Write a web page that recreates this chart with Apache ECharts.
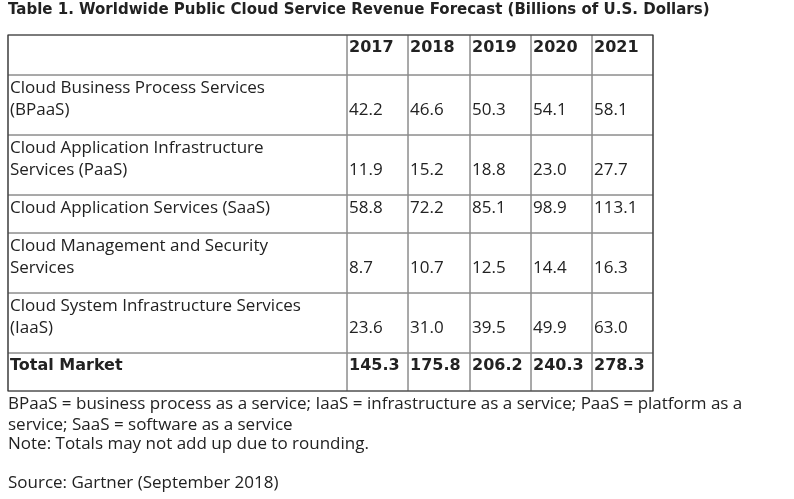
<!DOCTYPE html>
<html><head><meta charset="utf-8">
<script src="https://cdn.jsdelivr.net/npm/echarts@6/dist/echarts.min.js"></script>
<style>html,body{margin:0;padding:0;background:#fff}#c{width:794px;height:499px}</style>
</head><body><div id="c"></div>
<script>
var years=['2017','2018','2019','2020','2021'];
var segments=['Cloud Business Process Services\n(BPaaS)','Cloud Application Infrastructure\nServices (PaaS)','Cloud Application Services (SaaS)','Cloud Management and Security\nServices','Cloud System Infrastructure Services\n(IaaS)'];
var bpaas=['42.2','46.6','50.3','54.1','58.1'];
var paas=['11.9','15.2','18.8','23.0','27.7'];
var saas=['58.8','72.2','85.1','98.9','113.1'];
var mgmt=['8.7','10.7','12.5','14.4','16.3'];
var iaas=['23.6','31.0','39.5','49.9','63.0'];
var total=['145.3','175.8','206.2','240.3','278.3'];
var title='Table 1. Worldwide Public Cloud Service Revenue Forecast (Billions of U.S. Dollars)';
var notes=['BPaaS = business process as a service; IaaS = infrastructure as a service; PaaS = platform as a\nservice; SaaS = software as a service','Note: Totals may not add up due to rounding.','Source: Gartner (September 2018)'];

// layout: pixel edges of table grid
var colEdges=[8,347,408,470,531,592,653];
var rowEdges=[35,75,135,195,233,293,353,391];

var rows=[['',years,true]];
var vals=[bpaas,paas,saas,mgmt,iaas];
segments.forEach(function(s,i){rows.push([s,vals[i],false]);});
rows.push(['Total Market',total,true]);

var cells=[];
rows.forEach(function(r,ri){
  var lines=r[0].split('\n').length;
  cells.push([0,ri,r[0],r[2]?1:0,0]);
  r[1].forEach(function(v,ci){cells.push([ci+1,ri,v,r[2]?1:0,lines-1]);});
});

var font='"Open Sans", sans-serif';
var bold='"DejaVu Sans", sans-serif';
var chart=echarts.init(document.getElementById('c'));
chart.setOption({
  animation:false,
  grid:{left:0,right:0,top:0,bottom:0},
  xAxis:{type:'value',min:0,max:794,show:false},
  yAxis:{type:'value',min:0,max:499,inverse:true,show:false},
  graphic:[
    {type:'text',left:8,top:3,style:{text:title,font:'bold 15px '+bold,fill:'#222'}},
    {type:'text',left:8,top:394,style:{text:notes[0],font:'17px '+font,fill:'#222',lineHeight:21}},
    {type:'text',left:8,top:436,style:{text:notes[1],font:'17px '+font,fill:'#222'}},
    {type:'text',left:8,top:475,style:{text:notes[2],font:'17px '+font,fill:'#222'}}
  ],
  series:[{
    type:'custom',
    data:cells,
    renderItem:function(params,api){
      var c=api.value(0),r=api.value(1);
      var p0=api.coord([colEdges[c],rowEdges[r]]);
      var p1=api.coord([colEdges[c+1],rowEdges[r+1]]);
      var d=cells[params.dataIndex];
      return {type:'group',children:[
        {type:'rect',shape:{x:p0[0],y:p0[1],width:p1[0]-p0[0],height:p1[1]-p0[1]},
         style:{fill:'none',stroke:'#8c8c8c',lineWidth:1}},
        {type:'text',x:p0[0]+2,y:p0[1]+2+d[4]*22,
         style:{text:d[2],font:(d[3]?'bold 16px '+bold:'17px '+font),fill:'#222',lineHeight:22,verticalAlign:'top'}}
      ]};
    }
  },{
    type:'custom',data:[[0]],
    renderItem:function(params,api){
      var a=api.coord([colEdges[0],rowEdges[0]]),b=api.coord([colEdges[6],rowEdges[7]]);
      return {type:'rect',shape:{x:a[0],y:a[1],width:b[0]-a[0],height:b[1]-a[1]},style:{fill:'none',stroke:'#333',lineWidth:1.2}};
    }
  }]
});
</script></body></html>
